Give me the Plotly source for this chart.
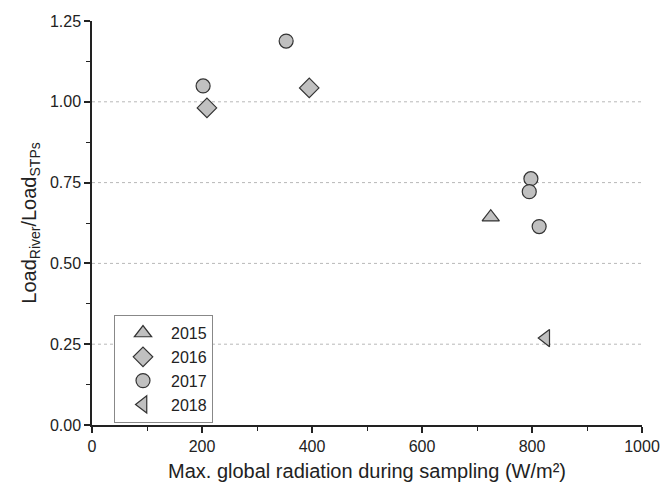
import plotly.graph_objects as go

years = ["2015", "2016", "2017", "2018"]
radiation = {
    "2015": [725],
    "2016": [209, 395],
    "2017": [202, 353, 798, 795, 813],
    "2018": [825],
}
load_ratio = {
    "2015": [0.643],
    "2016": [0.981, 1.043],
    "2017": [1.049, 1.188, 0.762, 0.722, 0.614],
    "2018": [0.269],
}
symbols = {"2015": "triangle-up", "2016": "diamond", "2017": "circle", "2018": "triangle-left"}
sizes = {"2015": 15, "2016": 15, "2017": 14, "2018": 15}
grid_values = [0.25, 0.5, 0.75, 1.0]
x_ticks = [0, 200, 400, 600, 800, 1000]
y_ticks = [0.0, 0.25, 0.5, 0.75, 1.0, 1.25]

fig = go.Figure()
for yr in years:
    fig.add_trace(go.Scatter(
        x=radiation[yr], y=load_ratio[yr], mode="markers", name=yr,
        marker=dict(symbol=symbols[yr], size=sizes[yr], color="#c0c0c0",
                    line=dict(color="#333333", width=1.2)),
    ))

for g in grid_values:
    fig.add_shape(type="line", xref="paper", yref="y", x0=0, x1=1, y0=g, y1=g,
                  line=dict(color="#b8b8b8", width=1, dash="dot"), layer="below")

fam = "Liberation Sans, Arial"
fig.update_layout(
    width=662, height=489,
    margin=dict(l=92, r=20, t=21, b=64),
    plot_bgcolor="white", paper_bgcolor="white",
    font=dict(family=fam, size=16, color="#222"),
    showlegend=True,
    legend=dict(x=0.04, y=0.272, xanchor="left", yanchor="top",
                bordercolor="#888", borderwidth=1, bgcolor="white",
                font=dict(family=fam, size=16, color="#222"),
                tracegroupgap=0, itemwidth=46),
    xaxis=dict(range=[0, 1000], tickvals=x_ticks, showgrid=False, zeroline=False, automargin=False,
               showline=True, linecolor="#222", linewidth=1.5,
               ticks="outside", ticklen=6, tickwidth=1.5, tickcolor="#222",
               tickfont=dict(family=fam, size=16, color="#222"),
               minor=dict(dtick=100, ticks="outside", ticklen=4, tickwidth=1.2, tickcolor="#222", showgrid=False),
               title=dict(text="Max. global radiation during sampling (W/m²)",
                          font=dict(family=fam, size=20, color="#222"), standoff=10)),
    yaxis=dict(range=[0, 1.25], tickvals=y_ticks, tickformat=".2f", showgrid=False, zeroline=False, automargin=False,
               showline=True, linecolor="#222", linewidth=1.5,
               ticks="outside", ticklen=6, tickwidth=1.5, tickcolor="#222",
               tickfont=dict(family=fam, size=16, color="#222"),
               minor=dict(dtick=0.125, ticks="outside", ticklen=4, tickwidth=1.2, tickcolor="#222", showgrid=False),
               title=dict(text="Load<sub>River</sub>/Load<sub>STPs</sub>",
                          font=dict(family=fam, size=20, color="#222"), standoff=8)),
)

fig.write_html("out.html")
